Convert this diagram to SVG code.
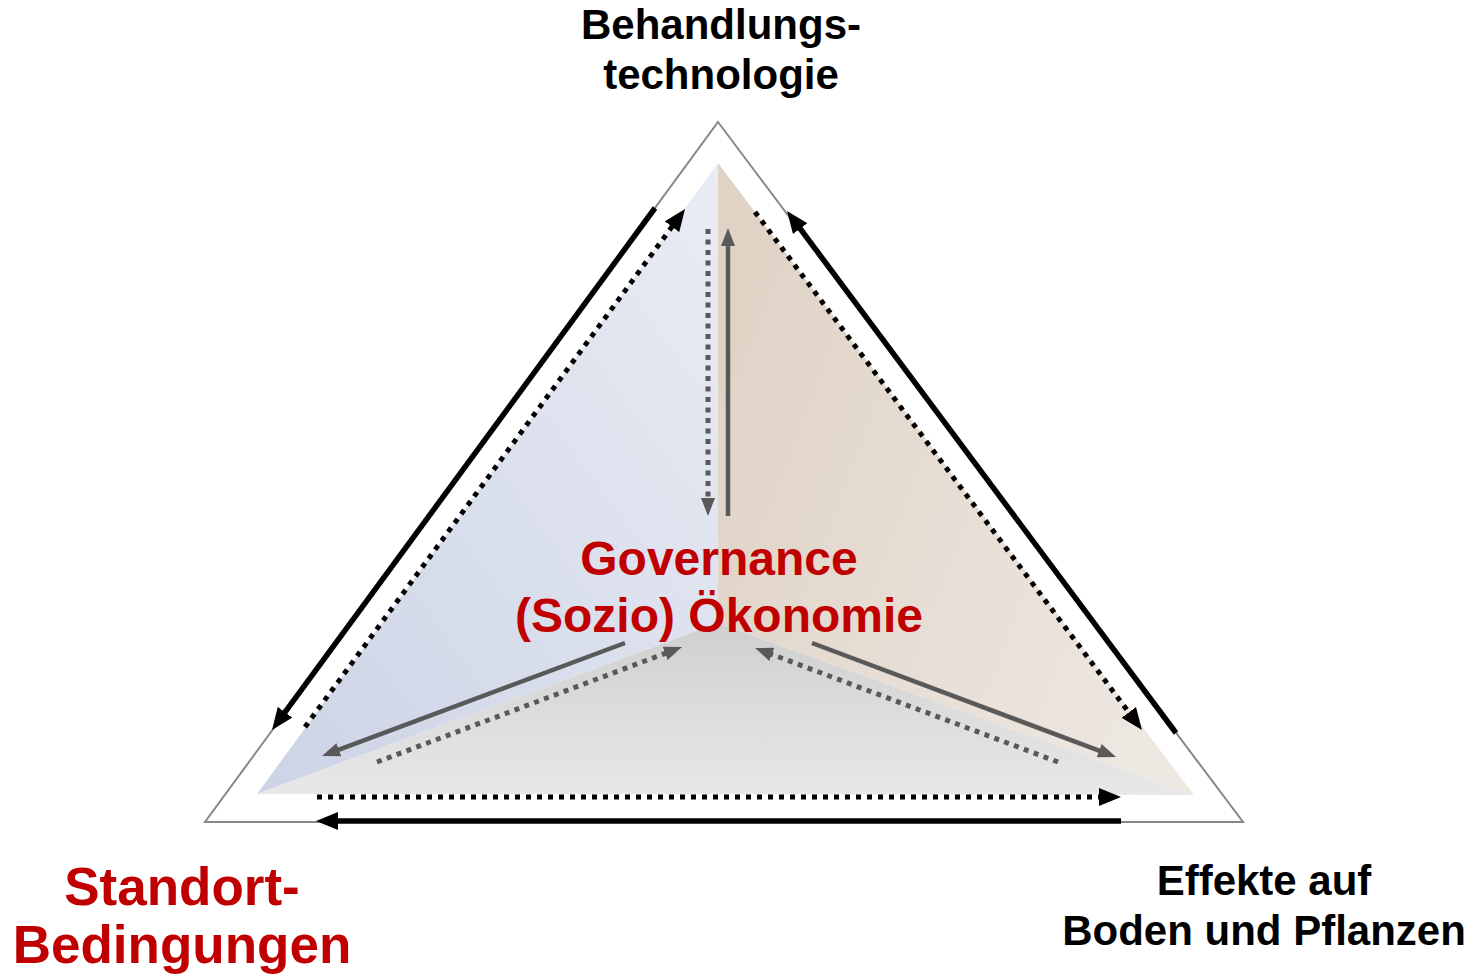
<svg xmlns="http://www.w3.org/2000/svg" width="1476" height="978" viewBox="0 0 1476 978">
<defs>
<linearGradient id="gL" x1="1" y1="0" x2="0" y2="1"><stop offset="0" stop-color="#e9ecf4"/><stop offset="1" stop-color="#ccd3e5"/></linearGradient>
<linearGradient id="gR" x1="0" y1="0.3" x2="1" y2="0.8"><stop offset="0" stop-color="#e0d3c6"/><stop offset="1" stop-color="#eee8e3"/></linearGradient>
<linearGradient id="gB" x1="0" y1="0" x2="0" y2="1"><stop offset="0" stop-color="#cfcfcf"/><stop offset="1" stop-color="#e8e8e8"/></linearGradient>
<marker id="ab" markerUnits="userSpaceOnUse" markerWidth="22" markerHeight="18" refX="8" refY="9" orient="auto"><path d="M0,0 L22,9 L0,18 z" fill="#000"/></marker>
<marker id="ag" markerUnits="userSpaceOnUse" markerWidth="18" markerHeight="14" refX="7" refY="7" orient="auto"><path d="M0,0 L18,7 L0,14 z" fill="#595959"/></marker>
<style>
.t{font-family:"Liberation Sans",Arial,sans-serif;font-weight:bold;text-anchor:middle}
.blk{fill:#000;font-size:42px}
.red{fill:#c00000}
.bs{stroke:#000;stroke-width:5.5;fill:none;marker-end:url(#ab)}
.bd{stroke:#000;stroke-width:5;fill:none;stroke-dasharray:5 6;marker-end:url(#ab)}
.gs{stroke:#595959;stroke-width:4.5;fill:none;marker-end:url(#ag)}
.gd{stroke:#595959;stroke-width:5;fill:none;stroke-dasharray:5 5.5;marker-end:url(#ag)}
</style>
</defs>
<rect width="1476" height="978" fill="#fff"/>
<g id="outer-triangle">
<polygon points="718,122 1243,822 205,822" fill="none" stroke="#888" stroke-width="2"/>
</g>
<g id="inner-regions">
<polygon points="718,163 718,623 257,794" fill="url(#gL)"/>
<polygon points="718,163 1194,795 718,623" fill="url(#gR)"/>
<polygon points="257,794 718,623 1194,795" fill="url(#gB)"/>
</g>
<g id="connectors">
<path class="bs" d="M655,208 L280.3,718.7"/>
<path class="bd" d="M305,727 L676.7,220.3"/>
<path class="bs" d="M1176,733 L795.4,222.2"/>
<path class="bd" d="M755,212 L1133.6,718.8"/>
<path class="bd" d="M317,797 L1107,797"/>
<path class="bs" d="M1121,821 L330,821"/>
<path class="gd" d="M708,229 L708,505"/>
<path class="gs" d="M728,516 L728,239"/>
<path class="gs" d="M625,643 L332.3,752.2"/>
<path class="gd" d="M377,762 L671.7,650.9"/>
<path class="gs" d="M812,643 L1105.7,753.1"/>
<path class="gd" d="M1058,762 L765.3,651.9"/>
</g>
<g id="node-behandlung">
<text class="t blk" x="721" y="39">Behandlungs-</text>
<text class="t blk" x="721" y="89">technologie</text>
</g>
<g id="node-governance">
<text class="t red" font-size="48" x="719" y="575">Governance</text>
<text class="t red" font-size="48" x="719" y="632">(Sozio) Ökonomie</text>
</g>
<g id="node-standort">
<text class="t red" font-size="53" x="182" y="905">Standort-</text>
<text class="t red" font-size="53" x="182" y="963">Bedingungen</text>
</g>
<g id="node-effekte">
<text class="t blk" x="1264" y="895">Effekte auf</text>
<text class="t blk" x="1264" y="945">Boden und Pflanzen</text>
</g>
</svg>
